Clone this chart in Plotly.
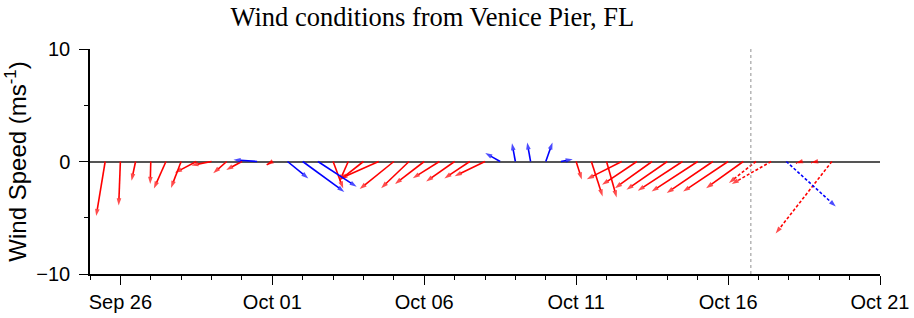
import plotly.graph_objects as go
import pandas as pd

# ---------------- data (wind vectors, m/s) ----------------
obs_times = [
    "2023-09-25 12:00", "2023-09-26 00:00", "2023-09-26 12:00", "2023-09-27 00:00",
    "2023-09-27 12:00", "2023-09-28 00:00", "2023-09-28 12:00", "2023-09-29 00:00",
    "2023-09-29 12:00", "2023-09-30 00:00", "2023-09-30 12:00", "2023-10-01 00:00",
    "2023-10-01 12:00", "2023-10-02 00:00", "2023-10-02 12:00", "2023-10-03 00:00",
    "2023-10-03 12:00", "2023-10-04 00:00", "2023-10-04 12:00", "2023-10-05 00:00",
    "2023-10-05 12:00", "2023-10-06 00:00", "2023-10-06 12:00", "2023-10-07 00:00",
    "2023-10-07 12:00", "2023-10-08 00:00", "2023-10-08 12:00", "2023-10-09 00:00",
    "2023-10-09 12:00", "2023-10-10 00:00", "2023-10-10 12:00", "2023-10-11 00:00",
    "2023-10-11 12:00", "2023-10-12 00:00", "2023-10-12 12:00", "2023-10-13 00:00",
    "2023-10-13 12:00", "2023-10-14 00:00", "2023-10-14 12:00", "2023-10-15 00:00",
    "2023-10-15 12:00", "2023-10-16 00:00", "2023-10-16 12:00",
]
obs_u = [-0.8, -0.15, -0.36, -0.05, -1.07, -0.9, -1.9, -1.8, -1.2, -1.4, -2.1, -0.5,
         1.85, 3.7, 3.45, 0.9, -0.8, -2.1, -3.4, -3.04, -2.48, -2.6, -2.37, -2.53,
         -2.26, -2.7, -1.33, -0.3, -0.3, 0.6, 1.05, 0.5, 1.0, 0.9, -3.1, -3.1,
         -3.3, -3.63, -3.98, -4.1, -4.1, -4.0, -3.3]
obs_v = [-4.85, -3.9, -1.7, -2.0, -2.4, -2.35, -1.0, -0.35, -1.05, -0.75, 0.15, -0.3,
         -1.5, -2.7, -2.25, -2.4, -1.8, -1.65, -1.5, -2.45, -2.37, -2.0, -1.48, -1.78,
         -1.5, -1.3, 0.75, 1.63, 1.7, 1.7, 0.2, -1.6, -3.1, -3.2, -1.57, -2.07,
         -2.37, -2.5, -2.6, -2.67, -2.8, -2.67, -2.37]
obs_class = ["r", "r", "r", "r", "r", "r", "r", "r", "r", "r", "b", "r",
             "b", "b", "b", "r", "r", "r", "r", "r", "r", "r", "r", "r",
             "r", "r", "b", "b", "b", "b", "b", "r", "r", "r", "r", "r",
             "r", "r", "r", "r", "r", "r", "r"]

fc_times = ["2023-10-16 22:00", "2023-10-17 10:00", "2023-10-17 22:00",
            "2023-10-18 10:00", "2023-10-18 22:00", "2023-10-19 10:00"]
fc_u = [-2.4, -3.5, 4.4, -0.5, -0.5, -5.0]
fc_v = [-1.9, -2.0, -4.0, -0.15, -0.1, -6.4]
fc_class = ["r", "r", "b", "r", "r", "r"]

now_time = "2023-10-16 18:00"
x_range = ["2023-09-25", "2023-10-21"]
y_range = [-10, 10]
title_text = "Wind conditions from Venice Pier, FL"
y_title = "Wind Speed (ms<sup>-1</sup>)"

# ---------------- layout geometry ----------------
W, H = 914, 318
M = dict(l=90, r=34, t=49, b=44)
plot_w = W - M["l"] - M["r"]
plot_h = H - M["t"] - M["b"]
n_days = (pd.Timestamp(x_range[1]) - pd.Timestamp(x_range[0])) / pd.Timedelta(days=1)
px_per_day = plot_w / n_days
px_per_unit = plot_h / (y_range[1] - y_range[0])
days_per_unit = px_per_unit / px_per_day   # equal pixel scale for u and v

COLORS = {"r": "#ff0000", "b": "#0000ff"}


def arrows(times, u, v, cls, want):
    xs, ys, sizes = [], [], []
    for t, uu, vv, c in zip(times, u, v, cls):
        if c != want:
            continue
        t0 = pd.Timestamp(t)
        t1 = t0 + pd.Timedelta(days=uu * days_per_unit)
        xs += [t0.isoformat(), t1.isoformat(), None]
        ys += [0, vv, None]
        sizes += [0, 7.5, 0]
    return xs, ys, sizes


fig = go.Figure()
for times, u, v, cls, dash in [(obs_times, obs_u, obs_v, obs_class, "solid"),
                               (fc_times, fc_u, fc_v, fc_class, "3px,2px")]:
    for key in ["r", "b"]:
        xs, ys, sizes = arrows(times, u, v, cls, key)
        if not xs:
            continue
        fig.add_trace(go.Scatter(
            x=xs, y=ys, mode="lines+markers", connectgaps=False,
            line=dict(color=COLORS[key], width=1.6, dash=dash),
            marker=dict(symbol="arrow", size=sizes, angleref="previous",
                        color=COLORS[key], line=dict(width=0)),
            hoverinfo="skip", showlegend=False))

fig.add_vline(x=pd.Timestamp(now_time).timestamp() * 1000,
              line=dict(color="#909090", width=1, dash="dot"))

axis_font = dict(family="Liberation Sans, Arial, sans-serif", size=20, color="black")
fig.update_layout(
    width=W, height=H, margin=M,
    plot_bgcolor="white", paper_bgcolor="white",
    title=dict(text=title_text, x=0.473, xanchor="center", y=1 - 17 / H,
               yanchor="middle", yref="container", automargin=False,
               font=dict(family="Liberation Serif, Times New Roman, serif", size=26.5,
                         color="black")),
    xaxis=dict(type="date", range=x_range, tickformat="%b %d", automargin=False,
               dtick=5 * 86400000, tick0="2023-09-26",
               ticks="outside", ticklen=9, tickwidth=1.2, tickcolor="black",
               showline=True, linecolor="black", linewidth=1.5,
               showgrid=False, zeroline=False, tickfont=axis_font,
               minor=dict(dtick=86400000, tick0="2023-09-25", ticks="outside",
                          ticklen=4, tickwidth=1, tickcolor="black", showgrid=False)),
    yaxis=dict(range=y_range, tickvals=[-10, 0, 10], ticks="outside", ticklen=9,
               automargin=False, ticklabelstandoff=5,
               tickwidth=1.2, tickcolor="black",
               showline=True, linecolor="black", linewidth=1.5, showgrid=False,
               zeroline=True, zerolinecolor="#555555", zerolinewidth=1.5,
               tickfont=axis_font,
               title=dict(text=y_title, standoff=3,
                          font=dict(family="Liberation Sans, Arial, sans-serif",
                                    size=24, color="black")),
               minor=dict(dtick=5, tick0=0, ticks="outside", ticklen=4,
                          tickwidth=1, tickcolor="black", showgrid=False)),
)

fig.write_html(
    "out.html",
    config={"displayModeBar": False},
    post_script="document.body.style.margin='0';document.body.style.padding='0';",
)
